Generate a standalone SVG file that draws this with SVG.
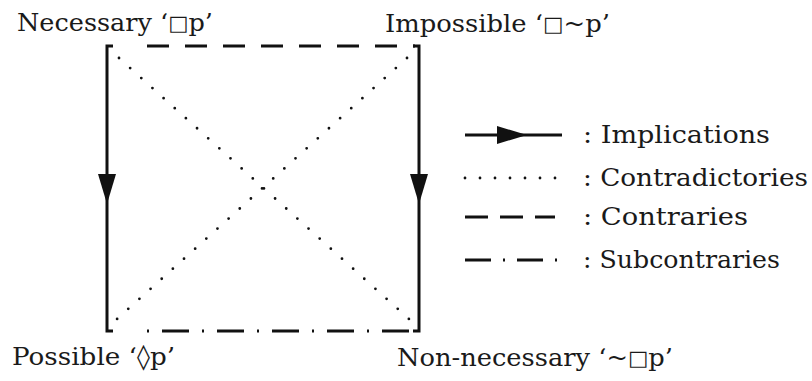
<svg xmlns="http://www.w3.org/2000/svg" width="812" height="381" viewBox="0 0 812 381">
<defs>
<style>
text{font-family:"DejaVu Serif","Liberation Serif",serif;font-size:25px;fill:#1a1a1a;}
.sq{font-size:21px;}
.solid{stroke:#111;stroke-width:3;fill:none;}
.dot{stroke:#111;stroke-width:2.8;stroke-linecap:round;stroke-dasharray:0 15;fill:none;}
.dash{stroke:#111;stroke-width:3;stroke-dasharray:22 16;fill:none;}
.dashdot{stroke:#111;stroke-width:3;stroke-dasharray:2 13 27 13;fill:none;}
.head{fill:#111;}
</style>
<marker id="arr" markerUnits="userSpaceOnUse" markerWidth="30" markerHeight="24" viewBox="-30 -12 30 24" refX="0" refY="0" orient="auto">
<path class="head" d="M-30,-9 L0,0 L-30,9 Z"/>
</marker>
</defs>
<g id="connectors">
<path class="solid" d="M113,46 L107,46 L107,204" marker-end="url(#arr)"/>
<path class="solid" d="M107,204 L107,331 L113,331"/>
<path class="solid" d="M413,46 L419,46 L419,204" marker-end="url(#arr)"/>
<path class="solid" d="M419,204 L419,331 L413,331"/>
<path class="dash" d="M147,46 L415,46"/>
<path class="dashdot" d="M147,331 L410,331"/>
<path class="dot" d="M119,58 L419,328"/>
<path class="dot" d="M407,58 L107,328"/>
</g>
<g id="node-necessary"><text x="17" y="31" textLength="196" lengthAdjust="spacingAndGlyphs">Necessary ‘<tspan class="sq" dy="-1">□</tspan><tspan dy="1">p’</tspan></text></g>
<g id="node-impossible"><text x="385" y="32" textLength="225" lengthAdjust="spacingAndGlyphs">Impossible ‘<tspan class="sq" dy="-1">□</tspan><tspan dy="1">~p’</tspan></text></g>
<g id="node-possible"><text x="12" y="365" textLength="163" lengthAdjust="spacingAndGlyphs">Possible ‘◊p’</text></g>
<g id="node-nonnecessary"><text x="397" y="366" textLength="276" lengthAdjust="spacingAndGlyphs">Non-necessary ‘~<tspan class="sq" dy="-1">□</tspan><tspan dy="1">p’</tspan></text></g>
<g id="legend">
<path class="solid" d="M465,135 L527,135" marker-end="url(#arr)"/>
<path class="solid" d="M527,135 L562,135"/>
<text x="583" y="143" textLength="187" lengthAdjust="spacingAndGlyphs">: Implications</text>
<path class="dot" d="M465,178 L560,178"/>
<text x="583" y="186" textLength="225" lengthAdjust="spacingAndGlyphs">: Contradictories</text>
<path class="solid" style="stroke-dasharray:23 12" d="M465,217 L555,217"/>
<text x="583" y="225" textLength="165" lengthAdjust="spacingAndGlyphs">: Contraries</text>
<path class="solid" style="stroke-dasharray:26 12 2 12" d="M465,260 L557,260"/>
<text x="583" y="268" textLength="197" lengthAdjust="spacingAndGlyphs">: Subcontraries</text>
</g>
</svg>
